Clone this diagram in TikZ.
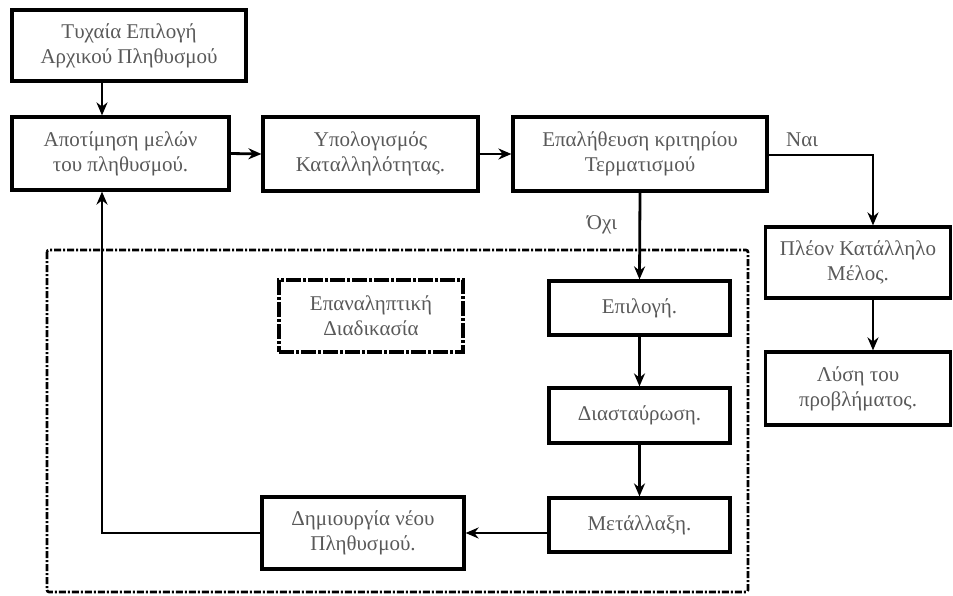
\documentclass[tikz,border=0pt]{standalone}
\usepackage{fontspec}
\setmainfont{Liberation Serif}
\usetikzlibrary{arrows.meta,calc}
\begin{document}
\begin{tikzpicture}[x=1pt,y=-1pt,
  box/.style={draw=black,line width=3.2pt,rectangle,inner sep=1pt,align=center,
    text=black!65,font=\fontsize{21}{25}\selectfont},
  conn/.style={line width=2.8pt,-{Stealth[length=13pt,width=11pt]}},
  dd/.style={line width=2.6pt,dash pattern=on 7pt off 2pt on 2pt off 2pt},
  dd2/.style={line width=3.2pt,dash pattern=on 15pt off 2pt on 3pt off 2pt},
  lbl/.style={text=black!65,font=\fontsize{21}{25}\selectfont,inner sep=0pt}]
\useasboundingbox (0,0) rectangle (953,595);
\draw[dd,rounded corners=2pt] (47,250) rectangle (748,592);
\node[box,minimum width=234pt,minimum height=71pt] (b1) at (129,45.5) {Τυχαία Επιλογή\\Αρχικού Πληθυσμού};
\node[box,minimum width=217pt,minimum height=73pt] (b2) at (120.5,153.5) {Αποτίμηση μελών\\του πληθυσμού.};
\node[box,minimum width=215pt,minimum height=74pt] (b3) at (370.5,154) {Υπολογισμός\\Καταλληλότητας.};
\node[box,minimum width=254pt,minimum height=74pt] (b4) at (640,154) {Επαλήθευση κριτηρίου\\Τερματισμού};
\node[box,minimum width=185pt,minimum height=71pt] (b5) at (858,262.5) {Πλέον Κατάλληλο\\Μέλος.};
\node[box,minimum width=185pt,minimum height=73pt] (b6) at (858,388.5) {Λύση του\\προβλήματος.};
\node[box,minimum width=181pt,minimum height=54pt] (sel) at (639.5,308) {Επιλογή.};
\node[box,minimum width=181pt,minimum height=55pt] (cross) at (639.5,415.5) {Διασταύρωση.};
\node[box,minimum width=181pt,minimum height=54pt] (mut) at (639.5,525) {Μετάλλαξη.};
\node[box,minimum width=202pt,minimum height=72pt] (newp) at (363,533) {Δημιουργία νέου\\Πληθυσμού.};
\node[box,dd2,minimum width=184pt,minimum height=72pt] (iter) at (371,316) {Επαναληπτική\\Διαδικασία};
\node[lbl] (yes) at (802,140) {Ναι};
\node[lbl] (no) at (602,225) {Όχι};
\coordinate (loop) at (102,533);
\coordinate (yesx) at (873,155);
\draw[conn] (b1.south -| loop) -- (b2.north -| loop);
\draw[conn] (b2.east) -- (b3.west);
\draw[conn] (b3.east) -- (b4.west);
\draw[conn] (b4.east |- yesx) -- (yesx) -- (yesx |- b5.north);
\draw[conn] (yesx |- b5.south) -- (yesx |- b6.north);
\draw[conn] (b4.south) -- (sel.north);
\draw[conn] (sel.south) -- (cross.north);
\draw[conn] (cross.south) -- (mut.north);
\draw[conn] (mut.west |- newp.east) -- (newp.east);
\draw[conn] (newp.west) -- (loop) -- (loop |- b2.south);
\end{tikzpicture}
\end{document}
